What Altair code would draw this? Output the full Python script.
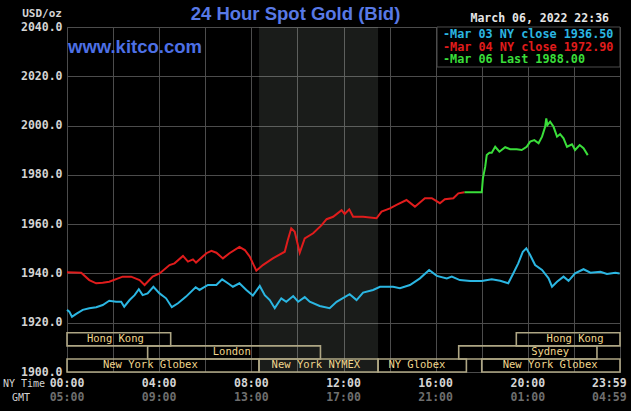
import altair as alt
import pandas as pd

# ---------------- data (minutes after midnight NY time, USD/oz) ----------------
mar03_t = [0, 6, 13, 23, 41, 58, 76, 93, 110, 128, 141, 149, 163, 176, 187, 197, 210, 225, 241, 258,
           273, 289, 310, 335, 345, 367, 389, 404, 419, 432, 449, 467, 484, 502, 515, 528, 541, 558, 571, 589,
           602, 619, 632, 658, 684, 702, 736, 754, 771, 797, 815, 849, 867, 893, 919, 943, 963, 989, 1002, 1023,
           1050, 1080, 1106, 1128, 1149, 1162, 1175, 1187, 1196, 1206, 1219, 1237, 1254, 1263, 1276, 1293, 1306,
           1323, 1345, 1363, 1389, 1406, 1428, 1439]
mar03_v = [1925.2, 1924.5, 1922.4, 1923.5, 1925.2, 1925.9, 1926.3, 1927.2, 1928.9, 1928.5, 1928.5, 1926.5,
           1929.2, 1931.2, 1933.6, 1931.2, 1931.9, 1934.6, 1931.9, 1929.9, 1926.3, 1927.9, 1930.6, 1934.4,
           1933.3, 1935.3, 1935.3, 1937.6, 1936.0, 1934.6, 1936.0, 1933.3, 1931.0, 1934.9, 1931.2, 1929.2,
           1925.9, 1929.9, 1928.5, 1930.8, 1928.5, 1930.4, 1928.5, 1926.8, 1925.9, 1928.5, 1931.6, 1929.2,
           1932.2, 1933.3, 1934.6, 1934.6, 1934.0, 1935.3, 1938.0, 1941.4, 1939.0, 1938.0, 1938.7, 1937.3,
           1936.9, 1936.9, 1937.6, 1937.0, 1936.0, 1940.0, 1944.1, 1948.8, 1950.2, 1947.5, 1943.4, 1941.4,
           1938.0, 1934.6, 1936.6, 1938.7, 1937.0, 1940.0, 1941.7, 1940.3, 1940.7, 1939.8, 1940.3, 1940.0]

mar04_t = [0, 37, 58, 76, 93, 110, 145, 167, 189, 202, 223, 241, 267, 280, 302, 315, 328, 336, 363, 376,
           389, 406, 423, 449, 463, 476, 493, 510, 536, 567, 575, 584, 593, 606, 619, 641, 663, 676, 693, 715,
           723, 735, 745, 771, 806, 819, 841, 858, 884, 906, 932, 950, 971, 984, 1006, 1019, 1035]
mar04_v = [1940.5, 1940.3, 1937.3, 1936.0, 1936.2, 1936.6, 1938.7, 1938.7, 1937.3, 1935.3, 1938.7, 1940.0,
           1943.4, 1944.1, 1947.1, 1944.8, 1945.7, 1944.4, 1948.2, 1949.2, 1948.4, 1946.1, 1948.2, 1950.8,
           1949.5, 1946.8, 1941.1, 1943.4, 1946.1, 1948.8, 1953.6, 1958.3, 1956.9, 1948.4, 1954.2, 1956.3,
           1959.6, 1962.0, 1963.0, 1965.7, 1964.1, 1966.0, 1963.0, 1963.0, 1962.4, 1965.1, 1966.4, 1967.8,
           1969.8, 1967.1, 1970.5, 1970.5, 1968.5, 1970.1, 1970.5, 1972.5, 1972.9]

mar06_t = [1035, 1080, 1083, 1089, 1093, 1100, 1106, 1115, 1126, 1141, 1154, 1171, 1184, 1197, 1206, 1217,
           1228, 1237, 1245, 1248, 1251, 1258, 1267, 1276, 1284, 1293, 1302, 1315, 1323, 1335, 1345, 1356]
mar06_v = [1972.9, 1972.9, 1978.6, 1983.3, 1988.1, 1989.0, 1989.0, 1991.4, 1989.4, 1991.2, 1990.4, 1990.4,
           1990.1, 1991.4, 1993.5, 1994.1, 1992.8, 1995.5, 1999.5, 2002.9, 2000.2, 2001.6, 1999.5, 1995.5,
           1996.5, 1994.8, 1991.4, 1992.4, 1990.1, 1992.1, 1990.8, 1988.0]

series_names = ["Mar 03 NY close 1936.50", "Mar 04 NY close 1972.90", "Mar 06 Last 1988.00"]
series_colors = ["#2bb6e2", "#e01c1c", "#3ade3a"]

# market sessions (NY time)
session_names = ["Hong Kong", "London", "New York Globex", "New York NYMEX", "NY Globex",
                 "New York Globex", "Sydney", "Hong Kong"]
session_start = ["00:00", "03:30", "00:00", "08:20", "13:30", "18:00", "17:00", "19:30"]
session_end = ["04:30", "11:00", "08:20", "13:30", "17:20", "24:00", "23:00", "24:00"]
session_row = [2, 1, 0, 0, 0, 0, 1, 2]
session_label_at = ["02:06", "07:09", "03:37", "10:48", "15:11", "20:58", "20:58", "22:03"]

nymex_hours = ["08:20", "13:30"]

ny_time_labels = ["00:00", "04:00", "08:00", "12:00", "16:00", "20:00"]
gmt_labels = ["05:00", "09:00", "13:00", "17:00", "21:00", "01:00"]
last_ny_label, last_gmt_label = "23:59", "04:59"

y_ticks = [1900, 1920, 1940, 1960, 1980, 2000, 2020, 2040]
title_text = "24 Hour Spot Gold (Bid)"
site_text = "www.kitco.com"
stamp_text = "March 06, 2022 22:36"
unit_text = "USD/oz"

# ---------------- helpers ----------------
def hm(s):
    h, m = s.split(":")
    return int(h) * 60 + int(m)

W, H = 553, 345
ROW_H = 5.3  # height of one session row in USD units
MONO = "DejaVu Sans Mono"

x_scale = alt.Scale(domain=[0, 1440], nice=False, zero=False)
y_scale = alt.Scale(domain=[1900, 2040], nice=False, zero=False)

lines_df = pd.concat([
    pd.DataFrame({"t": mar03_t, "v": mar03_v, "s": series_names[0], "o": 0}),
    pd.DataFrame({"t": mar04_t, "v": mar04_v, "s": series_names[1], "o": 1}),
    pd.DataFrame({"t": mar06_t, "v": mar06_v, "s": series_names[2], "o": 2}),
], ignore_index=True)

sess_df = pd.DataFrame({
    "name": session_names,
    "s": [hm(x) for x in session_start],
    "e": [hm(x) for x in session_end],
    "y0": [1900 + r * ROW_H for r in session_row],
    "y1": [1900 + (r + 1) * ROW_H for r in session_row],
    "yc": [1900 + (r + 0.5) * ROW_H for r in session_row],
    "at": [hm(x) for x in session_label_at],
})

one = pd.DataFrame({"a": [0]})

# shaded NYMEX hours
shade = alt.Chart(pd.DataFrame({"s": [hm(nymex_hours[0])], "e": [hm(nymex_hours[1])]})).mark_rect(
    fill="#e6f5e6", fillOpacity=0.115
).encode(
    x=alt.X("s:Q", scale=x_scale, axis=alt.Axis(values=list(range(0, 1441, 120)), labels=False, ticks=False,
                                                domain=False, grid=True, gridColor="#4c4c4c", gridWidth=1,
                                                title=None)),
    x2="e:Q",
    y=alt.value(0), y2=alt.value(H),
)

lines = alt.Chart(lines_df).mark_line(strokeWidth=2).encode(
    x=alt.X("t:Q", scale=x_scale),
    y=alt.Y("v:Q", scale=y_scale,
            axis=alt.Axis(values=y_ticks, format=".1f", grid=True, gridColor="#4c4c4c", ticks=False,
                          domain=False, title=None, labelFont=MONO, labelFontSize=11.5, labelFontWeight="bold",
                          labelColor="#d4d4d4", labelPadding=5)),
    color=alt.Color("s:N", scale=alt.Scale(domain=series_names, range=series_colors), legend=None),
    order="o:Q",
    detail="s:N",
)

boxes = alt.Chart(sess_df).mark_rect(fillOpacity=0, stroke="#aea684", strokeWidth=1.6).encode(
    x="s:Q", x2="e:Q", y="y0:Q", y2="y1:Q"
)
box_labels = alt.Chart(sess_df).mark_text(font=MONO, fontSize=10.5, color="#f0d68c", baseline="middle",
                                          align="center").encode(
    x="at:Q", y="yc:Q", text="name:N"
)

# legend box
legend_box = alt.Chart(one).mark_rect(fill="#000000", stroke="#4c4c4c", strokeWidth=1).encode(
    x=alt.value(370), x2=alt.value(W), y=alt.value(0), y2=alt.value(40)
)
legend_layers = []
for i, (nm, col) in enumerate(zip(series_names, series_colors)):
    legend_layers.append(
        alt.Chart(pd.DataFrame({"txt": ["-" + nm]})).mark_text(
            font=MONO, fontSize=11.8, fontWeight="bold", color=col, align="left", baseline="middle"
        ).encode(x=alt.value(376), y=alt.value(7 + 12.7 * i), text="txt:N")
    )

# x labels (NY time and GMT)
ny_df = pd.DataFrame({"t": [hm(x) for x in ny_time_labels], "lab": ny_time_labels})
gmt_df = pd.DataFrame({"t": [hm(x) for x in ny_time_labels], "lab": gmt_labels})
ny_text = alt.Chart(ny_df).mark_text(font=MONO, fontSize=11.5, fontWeight="bold", color="#d4d4d4",
                                     baseline="middle").encode(x="t:Q", y=alt.value(H + 11.5), text="lab:N")
gmt_text = alt.Chart(gmt_df).mark_text(font=MONO, fontSize=11.5, fontWeight="bold", color="#6e6e6e",
                                       baseline="middle").encode(x="t:Q", y=alt.value(H + 26), text="lab:N")
last_df = pd.DataFrame({"t": [hm(last_ny_label)], "a": [last_ny_label], "b": [last_gmt_label]})
last_ny = alt.Chart(last_df).mark_text(font=MONO, fontSize=11.5, fontWeight="bold", color="#d4d4d4",
                                       baseline="middle", align="right", dx=7).encode(
    x="t:Q", y=alt.value(H + 11.5), text="a:N")
last_gmt = alt.Chart(last_df).mark_text(font=MONO, fontSize=11.5, fontWeight="bold", color="#6e6e6e",
                                        baseline="middle", align="right", dx=7).encode(
    x="t:Q", y=alt.value(H + 26), text="b:N")

def label(txt, x, y, **kw):
    return alt.Chart(pd.DataFrame({"txt": [txt]})).mark_text(**kw).encode(
        x=alt.value(x), y=alt.value(y), text="txt:N")

ny_caption = label("NY Time", -64, H + 11.5, font=MONO, fontSize=10, color="#d4d4d4", align="left",
                   baseline="middle")
gmt_caption = label("GMT", -55, H + 26, font=MONO, fontSize=10, color="#d4d4d4", align="left",
                    baseline="middle")
unit = label(unit_text, -5, -13, font=MONO, fontSize=11, fontWeight="bold", color="#d4d4d4", align="right",
             baseline="middle")
title = label(title_text, 228.5, -6.7, font="Liberation Sans", fontSize=18.5, fontWeight="bold",
              color="#5879e6", align="center", baseline="alphabetic")
site = label(site_text, 1, 25.7, font="Liberation Sans", fontSize=18.5, fontWeight="bold", color="#4d70e6",
             align="left", baseline="alphabetic")
stamp = label(stamp_text, 542, -8, font=MONO, fontSize=11.5, fontWeight="bold", color="#e6e6e6",
              align="right", baseline="middle")

chart = alt.layer(
    shade, boxes, box_labels, lines, legend_box, *legend_layers,
    ny_text, gmt_text, last_ny, last_gmt, ny_caption, gmt_caption, unit, title, site, stamp
).properties(
    width=W, height=H,
    autosize=alt.AutoSizeParams(type="none"),
    padding={"left": 67, "top": 27, "right": 11, "bottom": 39},
    background="#000000",
).configure_view(
    stroke="#4c4c4c", fill="#000000"
)

chart.save("out.html", embed_options={"renderer": "svg", "actions": False})
